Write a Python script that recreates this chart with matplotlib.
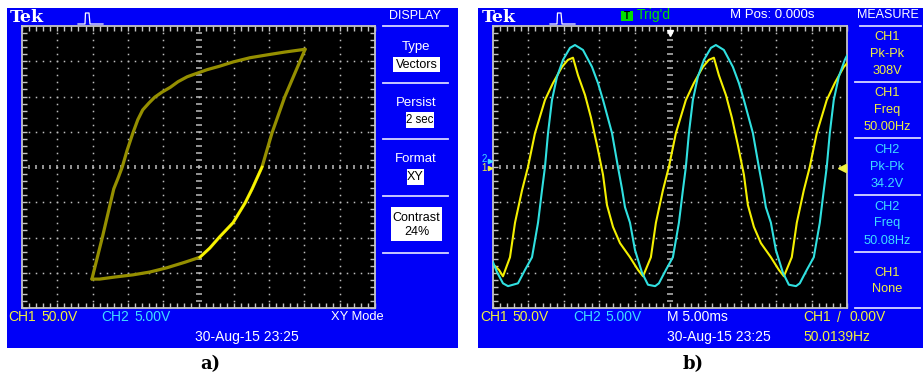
import numpy as np
import matplotlib
matplotlib.use('Agg')
import matplotlib.pyplot as plt
from matplotlib.patches import Rectangle
from matplotlib.lines import Line2D
from matplotlib.ticker import MultipleLocator

W, H = 923, 377

# ---- a) XY mode: CH1 (V) on x, CH2 (V) on y ----
loop_up_ch1 = [-151, -136, -120, -114, -108, -101, -93, -86, -79, -70, -62, -52, -40,
               -29, -16, -2, 12, 30, 49, 73, 97, 122, 151]
loop_up_ch2 = [-15.9, -9.9, -3.1, -1.6, 0.0, 2.4, 4.8, 6.7, 8.1, 9.1, 9.9, 10.6, 11.3,
               12.1, 12.8, 13.3, 13.8, 14.3, 14.9, 15.5, 15.9, 16.3, 16.7]
loop_dn_ch1 = [151, 122, 104, 90, 76, 66, 49, 30, 16, 2, -19, -45, -69, -93, -118, -140, -151]
loop_dn_ch2 = [16.7, 9.9, 4.8, 0.0, -3.1, -5.1, -7.9, -9.9, -11.5, -12.8, -13.5, -14.3,
               -14.9, -15.3, -15.6, -15.9, -15.9]

# ---- b) YT mode, 5 ms/div ----
t_ch1 = [0.0, 0.85, 1.41, 2.40, 3.11, 4.10, 4.94, 5.93, 7.34, 8.47, 9.75, 10.59, 11.30,
         12.01, 13.0, 13.84, 14.69, 15.54, 16.10, 16.95, 17.94, 19.35, 20.48, 21.19,
         22.30, 23.01, 24.0, 24.84, 25.83, 27.24, 28.37, 29.65, 30.49, 31.2,
         31.91, 32.9, 33.74, 34.59, 35.44, 36.0, 36.85, 37.84, 39.25, 40.38, 41.09,
         42.2, 42.91, 43.9, 44.74, 45.73, 47.14, 48.27, 49.55, 50.0]
v_ch1 = [-138, -146, -155, -128, -79, -33, 0, 48, 95, 119, 142, 152, 155,
         130, 102, 70, 31, -11, -54, -85, -108, -128, -146, -155,
         -128, -79, -33, 0, 48, 95, 119, 142, 152, 155,
         130, 102, 70, 31, -11, -54, -85, -108, -128, -146, -155,
         -128, -79, -33, 0, 48, 95, 119, 142, 147]

t_ch2 = [0.0, 0.56, 1.41, 2.12, 3.53, 4.52, 5.51, 6.36, 6.92, 7.34, 7.77, 8.33, 9.04, 9.89,
         10.88, 11.58, 12.71, 13.98, 14.83, 15.54, 16.81, 17.65, 18.22, 18.64, 19.35,
         20.06, 21.05, 21.89, 22.9, 23.43, 24.42, 25.41, 26.26, 26.82, 27.24, 27.67,
         28.23, 28.94, 29.79, 30.78, 31.48, 32.61, 33.88, 34.73, 35.44, 36.71, 37.55,
         38.12, 38.54, 39.25, 39.96, 40.95, 41.79, 42.8, 43.33, 44.32, 45.31, 46.16,
         46.72, 47.14, 47.57, 48.13, 48.84, 49.69, 50.0]
v_ch2 = [-13.5, -14.9, -16.5, -16.9, -16.5, -14.6, -12.8, -7.9, -3.3, 0.0, 4.8, 9.5, 12.8, 15.2,
         16.9, 17.3, 16.6, 14.2, 11.9, 9.5, 4.8, 0.0, -3.1, -5.7, -7.9,
         -11.8, -15.0, -16.7, -16.9, -16.5, -14.6, -12.8, -7.9, -3.3, 0.0, 4.8,
         9.5, 12.8, 15.2, 16.9, 17.3, 16.6, 14.2, 11.9, 9.5, 4.8, 0.0,
         -3.1, -5.7, -7.9, -11.8, -15.0, -16.7, -16.9, -16.5, -14.6, -12.8, -7.9,
         -3.3, 0.0, 4.8, 9.5, 12.8, 15.2, 15.8]

BLUE = '#0000f8'
FRAME = '#c4c4c4'
YEL = '#f0f040'
CYN = '#40dcff'
TR_YEL = '#f4f000'
TR_CYN = '#30e0e0'
OLIVE = '#958f00'
GREEN = '#00e000'
SCOPE_FONT = ['Liberation Sans Narrow', 'Liberation Sans', 'DejaVu Sans']

fig = plt.figure(figsize=(W / 100, H / 100), dpi=100)
fig.patch.set_facecolor('white')


def box(x0, y0, x1, y1, fc, z=1):
    fig.add_artist(Rectangle((x0 / W, 1 - y1 / H), (x1 - x0) / W, (y1 - y0) / H,
                             transform=fig.transFigure, facecolor=fc, edgecolor='none', zorder=z))


def hline(x0, x1, y, color='#d8d8ff'):
    fig.add_artist(Line2D([x0 / W, x1 / W], [1 - y / H, 1 - y / H], transform=fig.transFigure,
                          color=color, lw=1.3, zorder=2))


def label(px, py, s, color='white', size=10, ha='center', family=None, **kw):
    fig.text(px / W, 1 - py / H, s, color=color, fontsize=size, ha=ha, va='center',
             family=family or SCOPE_FONT, zorder=4, **kw)


def screen(x0, y0, x1, y1):
    ax = fig.add_axes([x0 / W, 1 - y1 / H, (x1 - x0) / W, (y1 - y0) / H])
    ax.set_facecolor('black')
    for s in ax.spines.values():
        s.set_color(FRAME)
        s.set_linewidth(1.3)
    return ax


def decorate(ax, xmaj, ymaj):
    ax.xaxis.set_major_locator(MultipleLocator(xmaj))
    ax.xaxis.set_minor_locator(MultipleLocator(xmaj / 5))
    ax.yaxis.set_major_locator(MultipleLocator(ymaj))
    ax.yaxis.set_minor_locator(MultipleLocator(ymaj / 5))
    ax.tick_params(which='both', direction='in', length=3.5, width=1, color=FRAME,
                   top=True, right=True, labelbottom=False, labelleft=False)
    # dotted graticule
    for i in range(1, 10):
        if i != 5:
            ys = np.arange(1, 40) / 40
            ax.plot(np.full_like(ys, i / 10), ys, ls='none', marker='s', ms=1.1,
                    mew=0, color='#bdbdbd', transform=ax.transAxes, zorder=1)
    for j in range(1, 8):
        if j != 4:
            xs = np.arange(1, 50) / 50
            ax.plot(xs, np.full_like(xs, j / 8), ls='none', marker='s', ms=1.1,
                    mew=0, color='#bdbdbd', transform=ax.transAxes, zorder=1)
    ys = np.arange(1, 40) / 40
    ax.plot(np.full_like(ys, 0.5), ys, ls='none', marker='_', ms=4, mew=1.1,
            color='#bdbdbd', transform=ax.transAxes, zorder=1)
    xs = np.arange(1, 50) / 50
    ax.plot(xs, np.full_like(xs, 0.5), ls='none', marker='|', ms=3.5, mew=1.1,
            color='#bdbdbd', transform=ax.transAxes, zorder=1)


def tek(px, py):
    label(px, py, 'Tek', size=12.5, ha='left', family='DejaVu Serif', weight='bold')


def pulse(px):
    xs = np.array([0, 7, 7.5, 11, 12, 25]) + px
    ys = np.array([24, 24, 13, 13, 24, 24])
    fig.add_artist(Line2D(xs / W, 1 - ys / H, transform=fig.transFigure,
                          color='white', lw=0.9, zorder=4))


# blue frames
box(7, 8, 458, 348, BLUE, z=-1)
box(478, 8, 923, 348, BLUE, z=-1)

# ---- panel a ----
axa = screen(22, 26, 375, 308)
axa.set_xlim(-250, 250)
axa.set_ylim(-20, 20)
decorate(axa, 50, 5)
axa.plot(loop_up_ch1, loop_up_ch2, color=OLIVE, lw=2.3, solid_capstyle='round',
         solid_joinstyle='round', zorder=3)
axa.plot(loop_dn_ch1, loop_dn_ch2, color=OLIVE, lw=2.3, solid_capstyle='round',
         solid_joinstyle='round', zorder=3)
axa.plot(loop_dn_ch1[3:10], loop_dn_ch2[3:10], color='#f8f400', lw=1.9, zorder=4)

tek(10, 17)
pulse(78)
label(415, 16, 'DISPLAY', size=9)
label(416, 47, 'Type', size=9.5)
box(393, 57, 440, 72, 'white', z=3)
label(416.5, 64.5, 'Vectors', color='black', size=9)
label(416, 103, 'Persist', size=9.5)
box(406, 112, 434, 128, 'white', z=3)
label(420, 120, '2 sec', color='black', size=8.3)
label(416, 159, 'Format', size=9.5)
box(407, 169, 424, 185, 'white', z=3)
label(415.5, 177, 'XY', color='black', size=9)
box(391, 207, 442, 241, 'white', z=3)
label(416.5, 218, 'Contrast', color='black', size=9)
label(416.5, 232, '24%', color='black', size=9)
for yy in (26, 83, 139, 196, 253):
    hline(383, 448, yy)

label(8, 317, 'CH1', color=YEL, ha='left')
label(41, 317, '50.0V', color=YEL, ha='left')
label(101, 317, 'CH2', color=CYN, ha='left')
label(134, 317, '5.00V', color=CYN, ha='left')
label(331, 317, 'XY Mode', ha='left', size=9.3)
label(247, 337, '30-Aug-15 23:25')
label(210, 364, 'a)', color='black', size=13, family='DejaVu Serif', weight='bold')

# ---- panel b ----
axb = screen(493, 26, 847, 308)
axb.set_xlim(0, 50)
axb.set_ylim(-200, 200)
decorate(axb, 5, 50)
axb.plot(t_ch1, v_ch1, color=TR_YEL, lw=1.5, zorder=4)
axb2 = axb.twinx()
axb2.set_ylim(-20, 20)
axb2.axis('off')
axb2.plot(t_ch2, v_ch2, color=TR_CYN, lw=1.5)

tek(482, 17)
pulse(550)
box(621, 11, 633, 21, GREEN, z=3)
label(627, 16, 'T', color='black', size=7, weight='bold')
label(637, 15, "Trig'd", color=GREEN, ha='left')
label(772, 15, 'M Pos: 0.000s', size=9.5)
label(888, 15, 'MEASURE', size=9)
hline(860, 921, 26)
for yy in (82, 138, 195, 252, 308):
    hline(855, 920, yy)

meas = [('CH1', 37, YEL), ('Pk-Pk', 54, YEL), ('308V', 71, YEL),
        ('CH1', 93, YEL), ('Freq', 110, YEL), ('50.00Hz', 127, YEL),
        ('CH2', 150, CYN), ('Pk-Pk', 167, CYN), ('34.2V', 184, CYN),
        ('CH2', 207, CYN), ('Freq', 223, CYN), ('50.08Hz', 241, CYN),
        ('CH1', 273, YEL), ('None', 289, YEL)]
for s, yy, c in meas:
    label(887, yy, s, color=c, size=9.2)

# markers on the screen edge
fig.add_artist(Line2D([670 / W], [1 - 33 / H], marker='v', ms=5, color='white',
                      transform=fig.transFigure, zorder=5))
fig.add_artist(Line2D([842 / W], [1 - 168 / H], marker='<', ms=6, color=YEL,
                      transform=fig.transFigure, zorder=5))
label(484, 159, '2', color=CYN, size=7)
label(484, 168, '1', color=YEL, size=7)
fig.add_artist(Line2D([490 / W], [1 - 161 / H], marker='>', ms=3, color=CYN,
                      transform=fig.transFigure, zorder=5))
fig.add_artist(Line2D([490 / W], [1 - 168 / H], marker='>', ms=3, color=YEL,
                      transform=fig.transFigure, zorder=5))

label(480, 317, 'CH1', color=YEL, ha='left')
label(512, 317, '50.0V', color=YEL, ha='left')
label(573, 317, 'CH2', color=CYN, ha='left')
label(605, 317, '5.00V', color=CYN, ha='left')
label(667, 317, 'M 5.00ms', ha='left')
label(803, 317, 'CH1', color=YEL, ha='left')
label(839, 318, '/', color=YEL)
label(849, 317, '0.00V', color=YEL, ha='left')
label(667, 337, '30-Aug-15 23:25', ha='left')
label(803, 337, '50.0139Hz', color=YEL, ha='left')
label(693, 364, 'b)', color='black', size=13, family='DejaVu Serif', weight='bold')

fig.savefig('out.png', dpi=100, facecolor='white')
